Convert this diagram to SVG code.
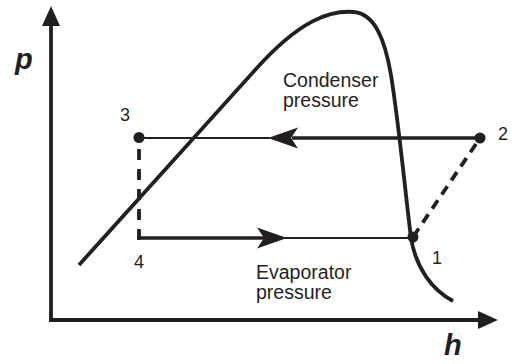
<svg xmlns="http://www.w3.org/2000/svg" xmlns:xlink="http://www.w3.org/1999/xlink" width="512" height="364" viewBox="0 0 512 364">
  <style>
    .ink { stroke: #231f20; fill: none; }
    .axis { stroke-width: 3.8; }
    .curve { stroke-width: 3.8; stroke-linecap: butt; }
    .thick { stroke-width: 3.6; }
    .thin { stroke-width: 1.8; }
    .dash { stroke-width: 3.8; stroke-dasharray: 11 9; }
    .fill { fill: #231f20; stroke: none; }
    .lbl { font-family: "Liberation Sans", Arial, sans-serif; font-size: 19.5px; fill: #231f20; }
    .num { font-family: "Liberation Sans", Arial, sans-serif; font-size: 18px; fill: #231f20; }
    .ax { font-family: "Liberation Sans", Arial, sans-serif; font-size: 29px; font-weight: bold; font-style: italic; fill: #231f20; }
  </style>
  <defs>
    <path id="ahL" d="M0,0 L30,-10.5 L23,0 L30,10.5 Z"/>
    <path id="ahR" d="M0,0 L-30,-10.5 L-23,0 L-30,10.5 Z"/>
  </defs>

  <g id="axes">
    <line class="ink axis" x1="51" y1="322" x2="51" y2="22"/>
    <path class="fill" d="M51,6 L60,26 L42,26 Z"/>
    <line class="ink axis" x1="49" y1="320" x2="480" y2="320"/>
    <path class="fill" d="M498,320 L478,311 L478,329 Z"/>
    <text class="ax" x="15" y="69">p</text>
    <text class="ax" x="444" y="355">h</text>
  </g>

  <g id="saturation-dome">
    <path class="ink curve" d="M79,265 L256,69 C300,20 330,10 354,12 C375,14 385,40 391,75 C399,125 405,190 411,238 C416,268 432,290 453,301"/>
  </g>

  <g id="connectors">
    <!-- 2 to 3 : condenser -->
    <line class="ink thick" x1="480" y1="138" x2="292" y2="138"/>
    <line class="ink thin" x1="270" y1="138" x2="139" y2="138"/>
    <use xlink:href="#ahL" class="fill" x="268" y="138"/>
    <!-- 3 to 4 : expansion -->
    <line class="ink dash" x1="139" y1="149" x2="139" y2="240"/>
    <!-- 4 to 1 : evaporator -->
    <line class="ink thick" x1="137.2" y1="238" x2="266" y2="238"/>
    <line class="ink thin" x1="285" y1="238" x2="413" y2="238"/>
    <use xlink:href="#ahR" class="fill" x="287" y="238"/>
    <!-- 1 to 2 : compression -->
    <line class="ink dash" x1="476" y1="144" x2="413" y2="237" style="stroke-dasharray: 10 7;"/>
  </g>

  <g id="point-1">
    <circle class="fill" cx="413" cy="237" r="5.5"/>
    <text class="num" x="432" y="264">1</text>
  </g>
  <g id="point-2">
    <circle class="fill" cx="480" cy="138" r="5.5"/>
    <text class="num" x="498" y="140">2</text>
  </g>
  <g id="point-3">
    <circle class="fill" cx="139" cy="137.5" r="5.5"/>
    <text class="num" x="120" y="121">3</text>
  </g>
  <g id="point-4">
    <text class="num" x="134" y="268">4</text>
  </g>

  <g id="label-condenser">
    <text class="lbl" x="283" y="87">Condenser</text>
    <text class="lbl" x="283" y="107">pressure</text>
  </g>
  <g id="label-evaporator">
    <text class="lbl" x="256" y="279">Evaporator</text>
    <text class="lbl" x="256" y="299">pressure</text>
  </g>
</svg>
